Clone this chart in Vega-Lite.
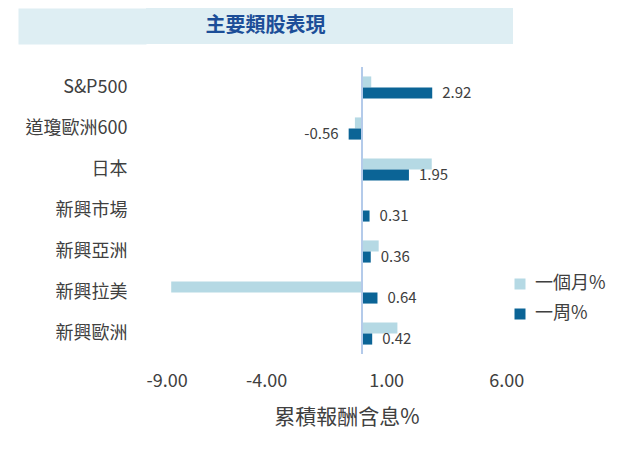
{
  "$schema": "https://vega.github.io/schema/vega-lite/v6.json",
  "padding": {"left": 0, "top": 8, "right": 0, "bottom": 15},
  "background": "white",
  "config": {"font": "Noto Sans CJK TC", "view": {"stroke": null}},
  "columns": 1,
  "spacing": 22,
  "concat": [
    {
      "width": 367,
      "height": 36,
      "view": {"fill": "#DEEEF3", "stroke": null},
      "data": {"values": [{"t": "主要類股表現"}]},
      "mark": {"type": "text", "font": "Noto Sans CJK TC", "fontSize": 20, "fontWeight": "bold", "color": "#1C4E98", "baseline": "middle", "align": "center", "dx": -64},
      "encoding": {
        "text": {"field": "t"},
        "y": {"field": "t", "type": "nominal", "scale": {"type": "point", "padding": 0.5},
          "axis": {"title": null, "labels": false, "domain": false, "ticks": true, "tickSize": 128, "tickWidth": 36, "tickColor": "#DEEEF3", "tickCap": "butt"}}
      }
    },
    {
      "width": 401,
      "height": 287,
      "data": {"values": [
        {"cat": "S&P500", "series": "一個月%", "value": 0.38},
        {"cat": "S&P500", "series": "一周%", "value": 2.92},
        {"cat": "道瓊歐洲600", "series": "一個月%", "value": -0.3},
        {"cat": "道瓊歐洲600", "series": "一周%", "value": -0.56},
        {"cat": "日本", "series": "一個月%", "value": 2.9},
        {"cat": "日本", "series": "一周%", "value": 1.95},
        {"cat": "新興市場", "series": "一個月%", "value": 0},
        {"cat": "新興市場", "series": "一周%", "value": 0.31},
        {"cat": "新興亞洲", "series": "一個月%", "value": 0.69},
        {"cat": "新興亞洲", "series": "一周%", "value": 0.36},
        {"cat": "新興拉美", "series": "一個月%", "value": -7.95},
        {"cat": "新興拉美", "series": "一周%", "value": 0.64},
        {"cat": "新興歐洲", "series": "一個月%", "value": 1.47},
        {"cat": "新興歐洲", "series": "一周%", "value": 0.42}
      ]},
      "encoding": {
        "y": {
          "field": "cat", "type": "nominal", "sort": null,
          "scale": {"paddingInner": 0.46, "paddingOuter": 0.23},
          "axis": {"title": null, "domain": false, "ticks": false, "labelPadding": 19, "labelFontSize": 18, "labelColor": "#404040", "labelFont": "Noto Sans CJK TC"}
        },
        "yOffset": {"field": "series", "type": "nominal", "sort": ["一個月%", "一周%"], "scale": {"paddingInner": 0, "paddingOuter": 0}}
      },
      "layer": [
        {
          "mark": {"type": "bar"},
          "encoding": {
            "x": {
              "field": "value", "type": "quantitative",
              "scale": {"domain": [-9, 7.7], "nice": false, "zero": false},
              "axis": {"values": [-9, -4, 1, 6], "format": ".2f", "labelExpr": "replace(datum.label, '\u2212', '-')", "grid": false, "domain": false, "ticks": false, "labelPadding": 18, "labelFontSize": 18, "labelColor": "#404040", "labelFont": "Noto Sans CJK TC", "title": "累積報酬含息%", "titleFontSize": 21, "titleFontWeight": "normal", "titleColor": "#404040", "titlePadding": 16, "titleFont": "Noto Sans CJK TC"}
            },
            "color": {
              "field": "series", "type": "nominal", "sort": ["一個月%", "一周%"],
              "scale": {"domain": ["一個月%", "一周%"], "range": ["#B5D9E4", "#0B6496"]},
              "legend": {"title": null, "orient": "none", "legendX": 365, "legendY": 267, "padding": 0, "symbolType": "square", "symbolSize": 121, "symbolStrokeWidth": 0, "labelFontSize": 18, "labelColor": "#404040", "labelFont": "Noto Sans CJK TC", "labelOffset": 6, "rowPadding": 12}
            }
          }
        },
        {
          "mark": {"type": "rule", "color": "#B4CBEA", "strokeWidth": 1.5},
          "encoding": {"x": {"datum": 0, "type": "quantitative"}, "y": null, "yOffset": null}
        },
        {
          "transform": [{"filter": "datum.series == '一周%' && datum.value >= 0"}],
          "mark": {"type": "text", "align": "left", "dx": 10, "baseline": "middle", "fontSize": 15, "color": "#404040", "font": "Noto Sans CJK TC"},
          "encoding": {"x": {"field": "value", "type": "quantitative"}, "text": {"field": "value", "type": "quantitative", "format": ".2f"}}
        },
        {
          "transform": [{"filter": "datum.series == '一周%' && datum.value < 0"}],
          "mark": {"type": "text", "align": "right", "dx": -10, "baseline": "middle", "fontSize": 15, "color": "#404040", "font": "Noto Sans CJK TC", "text": {"expr": "replace(format(datum.value, '.2f'), '\u2212', '-')"}},
          "encoding": {"x": {"field": "value", "type": "quantitative"}}
        }
      ]
    }
  ]
}
